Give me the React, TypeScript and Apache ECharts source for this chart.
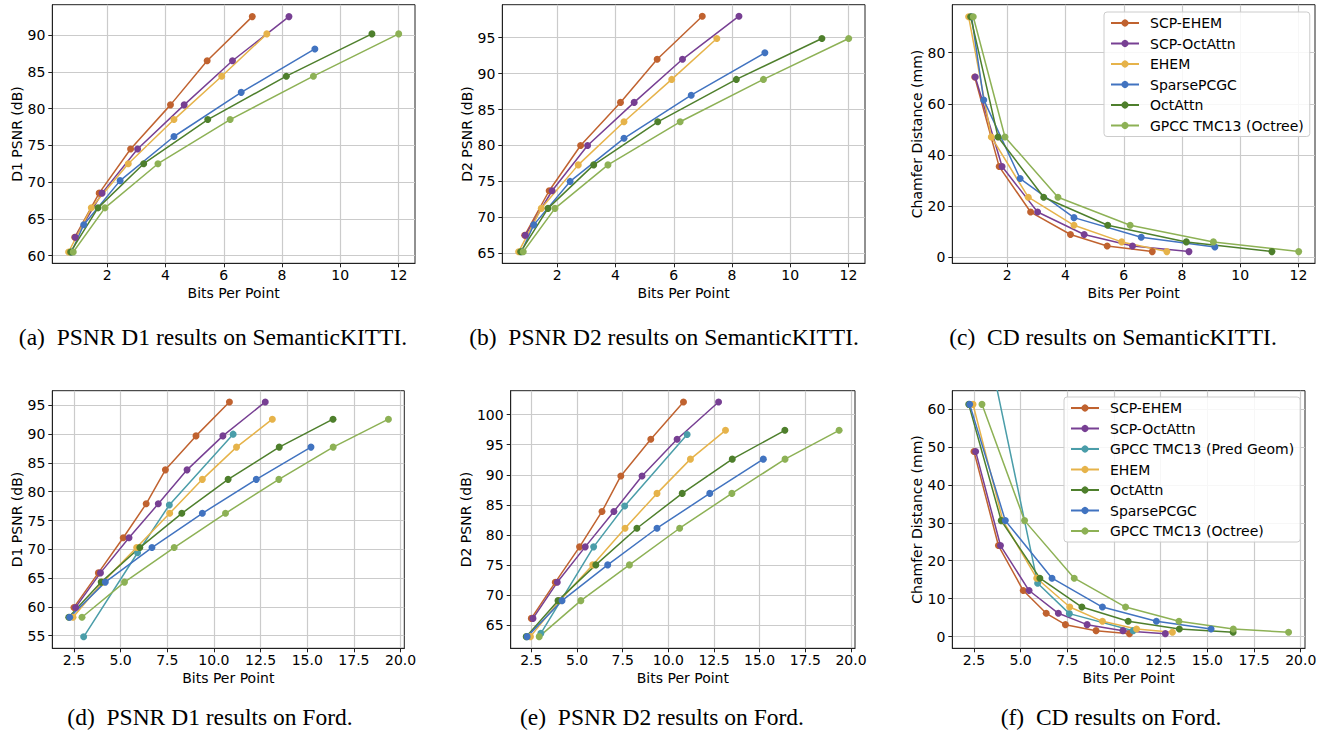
import React, { useEffect, useRef } from "react";
import * as echarts from "echarts";

// ---------- names & colours ----------
const kittiNames = ["SCP-EHEM", "SCP-OctAttn", "EHEM", "SparsePCGC", "OctAttn", "GPCC TMC13 (Octree)"];
const fordNames = ["SCP-EHEM", "SCP-OctAttn", "GPCC TMC13 (Pred Geom)", "EHEM", "OctAttn", "SparsePCGC", "GPCC TMC13 (Octree)"];
const colors: Record<string, string> = {
  "SCP-EHEM": "#C0622F",
  "SCP-OctAttn": "#773F93",
  "GPCC TMC13 (Pred Geom)": "#4A9DA9",
  "EHEM": "#E6B34A",
  "OctAttn": "#4E7F2C",
  "SparsePCGC": "#4173C0",
  "GPCC TMC13 (Octree)": "#8DB155",
};

// ---------- SemanticKITTI: bits per point ----------
const kScpEhemBpp = [0.88, 1.72, 2.8, 4.17, 5.43, 6.98];
const kScpOctBpp = [0.9, 1.82, 3.04, 4.64, 6.3, 8.24];
const kEhemBpp = [0.67, 1.45, 2.72, 4.29, 5.93, 7.48];
const kSparseBpp = [0.77, 1.19, 2.44, 4.29, 6.6, 9.13];
const kOctBpp = [0.74, 1.68, 3.25, 5.45, 8.15, 11.09];
const kGpccBpp = [0.83, 1.92, 3.74, 6.22, 9.08, 12.01];

// SemanticKITTI D1 PSNR
const kScpD1 = [62.5, 68.5, 74.5, 80.5, 86.5, 92.5];
const kBaseD1 = [60.5, 66.5, 72.5, 78.5, 84.4, 90.15];
const kSparseD1 = [60.5, 64.2, 70.2, 76.2, 82.2, 88.1];
// SemanticKITTI D2 PSNR
const kScpD2 = [67.5, 73.7, 80.0, 86.0, 92.0, 98.0];
const kBaseD2 = [65.2, 71.25, 77.3, 83.3, 89.2, 94.9];
const kSparseD2 = [65.2, 68.95, 75.0, 81.0, 87.0, 92.9];
// SemanticKITTI Chamfer distance
const kScpCd = [70.5, 35.4, 17.6, 8.8, 4.3, 2.1];
const kBaseCd = [94.1, 47.0, 23.4, 12.4, 5.9, 2.1];
const kSparseCd = [94.1, 61.5, 30.7, 15.4, 7.7, 3.9];

// ---------- Ford: bits per point ----------
const fScpEhemBpp = [2.5, 3.81, 5.14, 6.37, 7.4, 9.04, 10.83];
const fScpOctBpp = [2.59, 3.92, 5.45, 7.02, 8.56, 10.48, 12.75];
const fPredBpp = [3.02, 5.91, 7.61, 11.03];
const fEhemBpp = [2.45, 4.05, 5.86, 7.63, 9.38, 11.21, 13.13];
const fOctBpp = [2.22, 3.96, 6.03, 8.28, 10.76, 13.5, 16.38];
const fSparseBpp = [2.27, 4.18, 6.68, 9.38, 12.27, 15.2];
const fGpccBpp = [2.93, 5.21, 7.87, 10.62, 13.48, 16.39, 19.35];

// Ford D1 PSNR
const fScpD1 = [59.9, 65.9, 72.0, 77.9, 83.8, 89.7, 95.6];
const fPredD1 = [54.8, 69.4, 77.7, 90.0];
const fBaseD1 = [58.2, 64.3, 70.3, 76.25, 82.15, 87.75, 92.6];
const fSparseD1 = [58.2, 64.3, 70.3, 76.25, 82.15, 87.75];
// Ford D2 PSNR
const fScpD2 = [66.1, 72.1, 78.0, 83.9, 89.8, 95.9, 102.1];
const fPredD2 = [63.6, 78.0, 84.8, 96.7];
const fBaseD2 = [63.06, 69.05, 75.0, 81.1, 86.9, 92.6, 97.4];
const fSparseD2 = [63.06, 69.05, 75.0, 81.1, 86.9, 92.6];
// Ford Chamfer distance
const fScpCd = [48.8, 24.0, 12.15, 6.15, 3.16, 1.58, 0.79];
const fPredCd = [82.0, 14.06, 6.06, 1.58];
const fBaseCd = [61.2, 30.57, 15.4, 7.8, 4.04, 2.02, 1.14];
const fSparseCd = [61.2, 30.57, 15.4, 7.8, 4.04, 2.02];

// ---------- ticks ----------
const kittiXTicks = [2, 4, 6, 8, 10, 12];
const fordXTicks = [2.5, 5, 7.5, 10, 12.5, 15, 17.5, 20];
const aYTicks = [60, 65, 70, 75, 80, 85, 90];
const bYTicks = [65, 70, 75, 80, 85, 90, 95];
const cYTicks = [0, 20, 40, 60, 80];
const dYTicks = [55, 60, 65, 70, 75, 80, 85, 90, 95];
const eYTicks = [65, 70, 75, 80, 85, 90, 95, 100];
const fYTicks = [0, 10, 20, 30, 40, 50, 60];

const captions = [
  "(a)\u2002PSNR D1 results on SemanticKITTI.",
  "(b)\u2002PSNR D2 results on SemanticKITTI.",
  "(c)\u2002CD results on SemanticKITTI.",
  "(d)\u2002PSNR D1 results on Ford.",
  "(e)\u2002PSNR D2 results on Ford.",
  "(f)\u2002CD results on Ford.",
];

const FONT = "DejaVu Sans";

function zip(xs: number[], ys: number[]) {
  return xs.map((x, i) => [x, ys[i]]);
}

function line(name: string, gi: number, xs: number[], ys: number[]) {
  const c = colors[name];
  return {
    type: "line",
    name,
    xAxisIndex: gi,
    yAxisIndex: gi,
    data: zip(xs, ys),
    symbol: "circle",
    symbolSize: 7,
    showSymbol: true,
    clip: true,
    lineStyle: { width: 1.5, color: c },
    itemStyle: { color: c },
    emphasis: { disabled: true },
  };
}

function xAxis(gi: number, min: number, max: number, step: number, ticks: number[], dec: number) {
  return {
    type: "value",
    gridIndex: gi,
    min,
    max,
    minInterval: step,
    maxInterval: step,
    name: "Bits Per Point",
    nameLocation: "middle",
    nameGap: 23,
    nameTextStyle: { fontSize: 14, fontFamily: FONT, color: "#000" },
    axisLine: { show: true, onZero: false, lineStyle: { color: "#222", width: 1 } },
    axisTick: { show: true, length: 4, lineStyle: { color: "#222" }, customValues: ticks },
    axisLabel: {
      fontSize: 14,
      fontFamily: FONT,
      color: "#000",
      margin: 5,
      customValues: ticks,
      formatter: (v: number) => v.toFixed(dec),
    },
    splitLine: { show: true, lineStyle: { color: "#cbcbcb", width: 1.2 } },
  };
}

function yAxis(gi: number, name: string, min: number, max: number, step: number, ticks: number[], gap: number) {
  return {
    type: "value",
    gridIndex: gi,
    min,
    max,
    minInterval: step,
    maxInterval: step,
    name,
    nameLocation: "middle",
    nameGap: gap,
    nameTextStyle: { fontSize: 14, fontFamily: FONT, color: "#000" },
    axisLine: { show: true, onZero: false, lineStyle: { color: "#222", width: 1 } },
    axisTick: { show: true, length: 4, lineStyle: { color: "#222" }, customValues: ticks },
    axisLabel: {
      fontSize: 14,
      fontFamily: FONT,
      color: "#000",
      margin: 7,
      customValues: ticks,
      formatter: (v: number) => String(Math.round(v)),
    },
    splitLine: { show: true, lineStyle: { color: "#cbcbcb", width: 1.2 } },
  };
}

function legend(names: string[], left: number, top: number) {
  return {
    orient: "vertical",
    left,
    top,
    data: names,
    selectedMode: false,
    itemWidth: 28,
    itemHeight: 9,
    itemGap: 6.5,
    padding: [4, 6, 4, 6],
    borderColor: "#cccccc",
    borderWidth: 1,
    borderRadius: 3,
    backgroundColor: "rgba(255,255,255,0.85)",
    textStyle: { fontSize: 14, fontFamily: FONT, color: "#000", padding: [0, 0, 0, 6], lineHeight: 14 },
  };
}

export default function App() {
  const ref = useRef<HTMLDivElement>(null);
  useEffect(() => {
    const chart = echarts.init(ref.current!, null, { renderer: "svg" });
    const gridStyle = { show: true, borderColor: "#222", borderWidth: 1, backgroundColor: "transparent", containLabel: false };
    const grids = [
      { left: 52.3, top: 4.7, width: 362.7, height: 258.6 },
      { left: 502.3, top: 4.7, width: 362.7, height: 258.6 },
      { left: 952.3, top: 4.7, width: 362.7, height: 258.6 },
      { left: 52.3, top: 390.7, width: 352, height: 257.6 },
      { left: 510.7, top: 390.7, width: 344.3, height: 257.6 },
      { left: 952.3, top: 390.7, width: 352.7, height: 257.6 },
    ].map((g) => ({ ...gridStyle, ...g }));

    const kittiSets = [
      [kScpD1, kBaseD1, kSparseD1],
      [kScpD2, kBaseD2, kSparseD2],
      [kScpCd, kBaseCd, kSparseCd],
    ];
    const fordSets = [
      [fScpD1, fPredD1, fBaseD1, fSparseD1],
      [fScpD2, fPredD2, fBaseD2, fSparseD2],
      [fScpCd, fPredCd, fBaseCd, fSparseCd],
    ];
    const series: any[] = [];
    kittiSets.forEach(([scp, base, sparse], i) => {
      series.push(line("SCP-EHEM", i, kScpEhemBpp, scp));
      series.push(line("SCP-OctAttn", i, kScpOctBpp, scp));
      series.push(line("EHEM", i, kEhemBpp, base));
      series.push(line("SparsePCGC", i, kSparseBpp, sparse));
      series.push(line("OctAttn", i, kOctBpp, base));
      series.push(line("GPCC TMC13 (Octree)", i, kGpccBpp, base));
    });
    fordSets.forEach(([scp, pred, base, sparse], j) => {
      const i = j + 3;
      series.push(line("SCP-EHEM", i, fScpEhemBpp, scp));
      series.push(line("SCP-OctAttn", i, fScpOctBpp, scp));
      series.push(line("GPCC TMC13 (Pred Geom)", i, fPredBpp, pred));
      series.push(line("EHEM", i, fEhemBpp, base));
      series.push(line("OctAttn", i, fOctBpp, base));
      series.push(line("SparsePCGC", i, fSparseBpp, sparse));
      series.push(line("GPCC TMC13 (Octree)", i, fGpccBpp, base));
    });

    const capPos = [
      [213, 337], [664, 337], [1113, 337],
      [210, 717], [662, 717], [1111, 717],
    ];

    const option: any = {
      animation: false,
      backgroundColor: "#fff",
      grid: grids,
      xAxis: [
        xAxis(0, 0.11, 12.57, 2, kittiXTicks, 0),
        xAxis(1, 0.11, 12.57, 2, kittiXTicks, 0),
        xAxis(2, 0.11, 12.57, 2, kittiXTicks, 0),
        xAxis(3, 1.34, 20.2, 2.5, fordXTicks, 1),
        xAxis(4, 1.37, 20.22, 2.5, fordXTicks, 1),
        xAxis(5, 1.34, 20.23, 2.5, fordXTicks, 1),
      ],
      yAxis: [
        yAxis(0, "D1 PSNR (dB)", 58.96, 94.12, 5, aYTicks, 28),
        yAxis(1, "D2 PSNR (dB)", 63.6, 99.6, 5, bYTicks, 28),
        yAxis(2, "Chamfer Distance (mm)", -2.48, 98.8, 20, cYTicks, 28),
        yAxis(3, "D1 PSNR (dB)", 52.8, 97.55, 5, dYTicks, 28),
        yAxis(4, "D2 PSNR (dB)", 61.12, 103.99, 5, eYTicks, 37),
        yAxis(5, "Chamfer Distance (mm)", -3.07, 64.8, 10, fYTicks, 28),
      ],
      legend: [legend(kittiNames, 1104, 12), legend(fordNames, 1064, 397)],
      series,
      graphic: captions.map((t, i) => ({
        type: "text",
        x: capPos[i][0],
        y: capPos[i][1],
        style: {
          text: t,
          fontFamily: "Liberation Serif",
          fontSize: 23.5,
          fill: "#000",
          align: "center",
          verticalAlign: "middle",
        },
      })),
    };
    chart.setOption(option);
    return () => chart.dispose();
  }, []);
  return (
    <div
      ref={ref}
      style={{ position: "absolute", left: 0, top: 0, width: 1327, height: 737, background: "#fff" }}
    />
  );
}
